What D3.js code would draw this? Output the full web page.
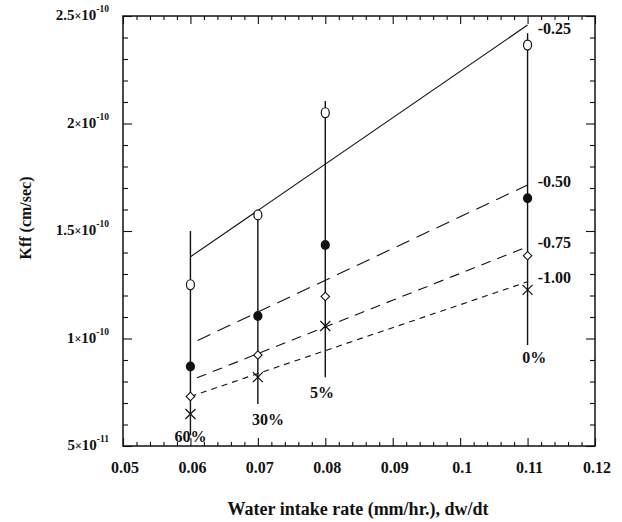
<!DOCTYPE html>
<html>
<head>
<meta charset="utf-8">
<script src="https://cdn.jsdelivr.net/npm/d3@7/dist/d3.min.js"></script>
<style>
  body { margin: 0; background: #fff; }
  svg { display: block; }
  text { font-family: "Liberation Serif", "Times New Roman", serif; font-weight: bold; fill: #111; }
</style>
</head>
<body>
<svg id="chart" width="622" height="522"></svg>
<script>
// ---------- data ----------
const xCats = [0.06, 0.07, 0.08, 0.11];
const kOpenCircle = [1.25e-10, 1.575e-10, 2.05e-10, 2.365e-10];   // -0.25
const kFilledCircle = [0.87e-10, 1.105e-10, 1.435e-10, 1.652e-10]; // -0.50
const kDiamond = [0.73e-10, 0.923e-10, 1.195e-10, 1.385e-10];     // -0.75
const kCross = [0.649e-10, 0.82e-10, 1.058e-10, 1.226e-10];       // -1.00
const rangeTop = [1.5e-10, 1.575e-10, 2.105e-10, 2.42e-10];
const rangeBottom = [0.55e-10, 0.695e-10, 0.82e-10, 0.97e-10];

const fitX = [0.06, 0.11];
const fit025 = [1.38e-10, 2.458e-10];
const fit050 = [0.975e-10, 1.714e-10];
const fit075 = [0.805e-10, 1.427e-10];
const fit100 = [0.73e-10, 1.264e-10];

const fitLabels = ["-0.25", "-0.50", "-0.75", "-1.00"];
const fitLabelX = [0.1115, 0.1115, 0.1115, 0.1115];
const fitLabelY = [2.416e-10, 1.705e-10, 1.421e-10, 1.258e-10];

const pctLabels = ["60%", "30%", "5%", "0%"];
const pctLabelX = [0.06, 0.0715, 0.0795, 0.111];
const pctLabelY = [0.519e-10, 0.598e-10, 0.723e-10, 0.886e-10];

const xTicks = [0.05, 0.06, 0.07, 0.08, 0.09, 0.1, 0.11, 0.12];
const xTickLabels = ["0.05", "0.06", "0.07", "0.08", "0.09", "0.1", "0.11", "0.12"];
const yTicks = [5e-11, 1e-10, 1.5e-10, 2e-10, 2.5e-10];
const yTickMantissa = ["5", "1", "1.5", "2", "2.5"];
const yTickExponent = ["-11", "-10", "-10", "-10", "-10"];
const xMinor = d3.range(0, 36).map(i => 0.05 + i * 0.002);
const yMinor = d3.range(0, 21).map(i => 5e-11 + i * 1e-11);

const xTitle = "Water intake rate (mm/hr.), dw/dt";
const yTitle = "Kff (cm/sec)";

// ---------- layout ----------
const svg = d3.select("#chart");
const L = 123, T = 16, W = 472, H = 430;
const x = d3.scaleLinear().domain([0.05, 0.12]).range([L, L + W]);
const y = d3.scaleLinear().domain([5e-11, 2.5e-10]).range([T + H, T]);

function drawAxis(axisFn, scale, ticks, size, transform) {
  const g = svg.append("g").attr("transform", transform)
    .call(axisFn(scale).tickValues(ticks).tickSize(size).tickFormat(""));
  g.select(".domain").remove();
  g.selectAll("line").attr("stroke", "#111").attr("stroke-width", 1.1);
  return g;
}
const minorX = xMinor.filter(v => !xTicks.some(t => Math.abs(t - v) < 1e-9));
const minorY = yMinor.filter(v => !yTicks.some(t => Math.abs(t - v) < 1e-15));
drawAxis(d3.axisBottom, x, minorX, -4, `translate(0,${T + H})`);
drawAxis(d3.axisBottom, x, xTicks, -8, `translate(0,${T + H})`);
drawAxis(d3.axisTop, x, minorX, -4, `translate(0,${T})`);
drawAxis(d3.axisTop, x, xTicks, -8, `translate(0,${T})`);
drawAxis(d3.axisLeft, y, minorY, -5, `translate(${L},0)`);
drawAxis(d3.axisLeft, y, yTicks, -9, `translate(${L},0)`);
drawAxis(d3.axisRight, y, minorY, -5, `translate(${L + W},0)`);
drawAxis(d3.axisRight, y, yTicks, -9, `translate(${L + W},0)`);

// frame
svg.append("rect").attr("x", L).attr("y", T).attr("width", W).attr("height", H)
  .attr("fill", "none").attr("stroke", "#111").attr("stroke-width", 1.5);

// x tick labels
svg.append("g").selectAll("text").data(xTicks).join("text")
  .attr("x", d => x(d) + 2).attr("y", T + H + 27)
  .attr("text-anchor", "middle").attr("font-size", 16)
  .text((d, i) => xTickLabels[i]);

// y tick labels
const yl = svg.append("g").selectAll("text").data(yTicks).join("text")
  .attr("x", L - 14).attr("y", d => y(d) + 4)
  .attr("text-anchor", "end").attr("font-size", 15);
yl.append("tspan").text((d, i) => yTickMantissa[i]);
yl.append("tspan").attr("font-size", 12).text("×");
yl.append("tspan").text("10");
yl.append("tspan").attr("font-size", 9.5).attr("dy", -8).text((d, i) => yTickExponent[i]);

// axis titles
svg.append("text").attr("x", 358).attr("y", 515).attr("text-anchor", "middle")
  .attr("font-size", 18).text(xTitle);
svg.append("text").attr("transform", "translate(31,218) rotate(-90)")
  .attr("text-anchor", "middle").attr("font-size", 16).text(yTitle);

// fit lines
const line = d3.line().x(d => x(d[0])).y(d => y(d[1]));
const fits = [
  { v: fit025, dash: null, off: 0 },
  { v: fit050, dash: "14 8", off: 14 },
  { v: fit075, dash: "10 7", off: 10 },
  { v: fit100, dash: "6 5", off: 0 }
];
fits.forEach(f => {
  svg.append("path").datum(fitX.map((xv, i) => [xv, f.v[i]]))
    .attr("d", line).attr("fill", "none").attr("stroke", "#111")
    .attr("stroke-width", 1.1)
    .attr("stroke-dasharray", f.dash)
    .attr("stroke-dashoffset", f.off);
});

// vertical range lines
svg.append("g").selectAll("line").data(xCats).join("line")
  .attr("x1", d => x(d)).attr("x2", d => x(d))
  .attr("y1", (d, i) => y(rangeTop[i])).attr("y2", (d, i) => y(rangeBottom[i]))
  .attr("stroke", "#111").attr("stroke-width", 1.4);

// markers
svg.append("g").selectAll("ellipse").data(xCats).join("ellipse")
  .attr("cx", d => x(d)).attr("cy", (d, i) => y(kOpenCircle[i]))
  .attr("rx", 4).attr("ry", 5).attr("fill", "#fff").attr("stroke", "#111").attr("stroke-width", 1.2);
svg.append("g").selectAll("ellipse").data(xCats).join("ellipse")
  .attr("cx", d => x(d)).attr("cy", (d, i) => y(kFilledCircle[i]))
  .attr("rx", 4.6).attr("ry", 5).attr("fill", "#111");
svg.append("g").selectAll("path").data(xCats).join("path")
  .attr("transform", (d, i) => `translate(${x(d)},${y(kDiamond[i])}) rotate(45)`)
  .attr("d", d3.symbol(d3.symbolSquare, 36)())
  .attr("fill", "#fff").attr("stroke", "#111").attr("stroke-width", 1.1);
const cx = svg.append("g").selectAll("g").data(xCats).join("g")
  .attr("transform", (d, i) => `translate(${x(d)},${y(kCross[i])})`);
cx.append("path").attr("d", "M-5,-5L5,5M-5,5L5,-5").attr("stroke", "#111").attr("stroke-width", 1.2);

// fit labels
svg.append("g").selectAll("text").data(fitLabels).join("text")
  .attr("x", (d, i) => x(fitLabelX[i])).attr("y", (d, i) => y(fitLabelY[i]))
  .attr("font-size", 16).text(d => d);

// percent labels
svg.append("g").selectAll("text").data(pctLabels).join("text")
  .attr("x", (d, i) => x(pctLabelX[i])).attr("y", (d, i) => y(pctLabelY[i]))
  .attr("text-anchor", "middle").attr("font-size", 16).text(d => d);
</script>
</body>
</html>
